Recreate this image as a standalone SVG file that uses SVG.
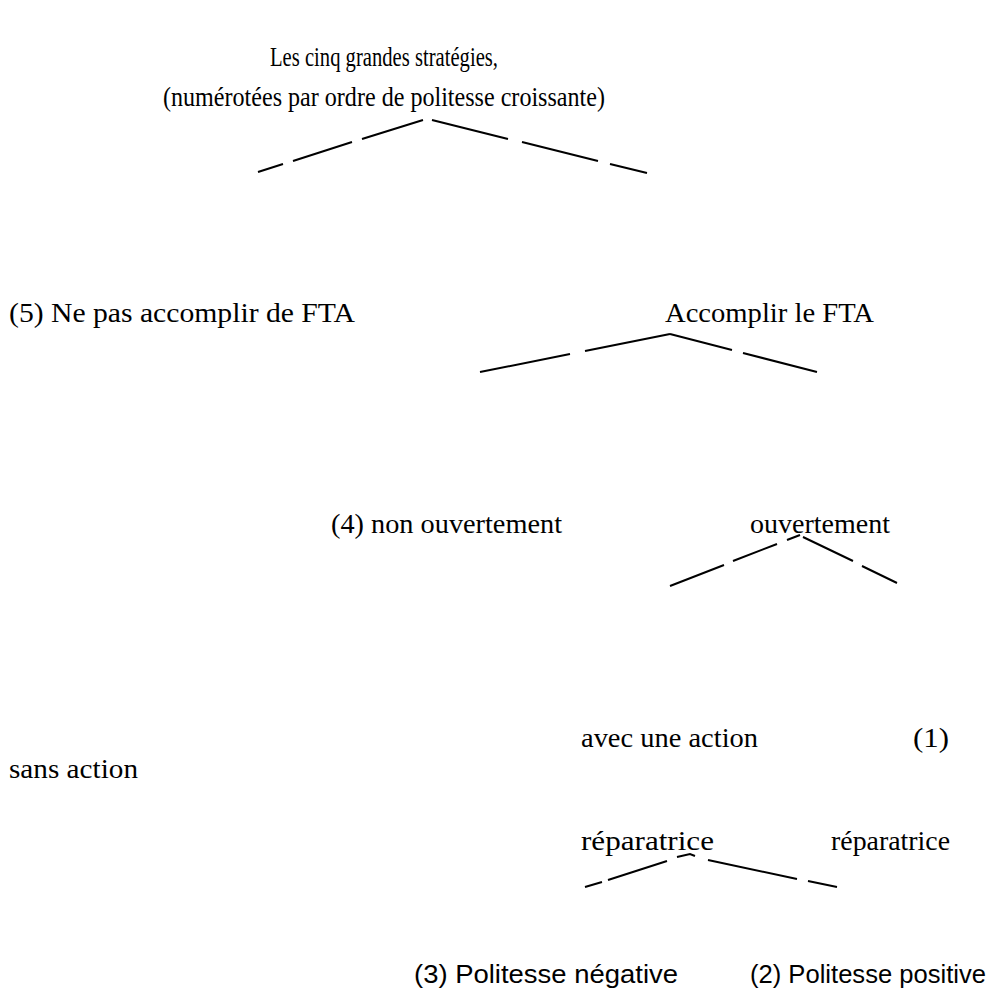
<svg xmlns="http://www.w3.org/2000/svg" width="993" height="994" viewBox="0 0 993 994">
<style>
.s{font-family:"Liberation Serif","Times New Roman",serif;font-size:28px;fill:#000}
.ss{font-family:"Liberation Sans",Arial,sans-serif;font-size:26px;fill:#000}
.c{fill:none;stroke:#000;stroke-width:2;stroke-linecap:butt}
</style>
<rect width="993" height="994" fill="#fff"/>
<g id="root">
<text class="s" x="270" y="66" textLength="228" lengthAdjust="spacingAndGlyphs">Les cinq grandes stratégies,</text>
<text class="s" x="163" y="106" textLength="442" lengthAdjust="spacingAndGlyphs">(numérotées par ordre de politesse croissante)</text>
</g>
<g id="n5"><text class="s" x="9" y="322" textLength="346" lengthAdjust="spacingAndGlyphs">(5) Ne pas accomplir de FTA</text></g>
<g id="accomplir"><text class="s" x="665" y="322" textLength="209" lengthAdjust="spacingAndGlyphs">Accomplir le FTA</text></g>
<g id="n4"><text class="s" x="331" y="533" textLength="231" lengthAdjust="spacingAndGlyphs">(4) non ouvertement</text></g>
<g id="ouvertement"><text class="s" x="750" y="533" textLength="140" lengthAdjust="spacingAndGlyphs">ouvertement</text></g>
<g id="sans"><text class="s" x="9" y="778" textLength="129" lengthAdjust="spacingAndGlyphs">sans action</text></g>
<g id="avec">
<text class="s" x="581" y="747" textLength="177" lengthAdjust="spacingAndGlyphs">avec une action</text>
<text class="s" x="581" y="850" textLength="133" lengthAdjust="spacingAndGlyphs">réparatrice</text>
</g>
<g id="n1">
<text class="s" x="913" y="747" textLength="36" lengthAdjust="spacingAndGlyphs">(1)</text>
<text class="s" x="831" y="850" textLength="119" lengthAdjust="spacingAndGlyphs">réparatrice</text>
</g>
<g id="n3"><text class="ss" x="414" y="983" textLength="264" lengthAdjust="spacingAndGlyphs">(3) Politesse négative</text></g>
<g id="n2"><text class="ss" x="750" y="983" textLength="236" lengthAdjust="spacingAndGlyphs">(2) Politesse positive</text></g>
<g id="connectors">
<path class="c" d="M258 172 L283 164 M293 161 L352 142 M362 139 L423 120"/>
<path class="c" d="M432 120 L508 139 M522 142 L598 161 M610 164 L647 173"/>
<path class="c" d="M480 372 L570 354 M585 351 L670 334"/>
<path class="c" d="M670 334 L732 350 M743 353 L817 372"/>
<path class="c" d="M670 586 L724 565 M733 561 L777 544 M787 540 L800 535"/>
<path class="c" d="M803 537 L853 561 M862 566 L897 583"/>
<path class="c" d="M585 887 L602 882 M608 880 L667 861 M677 857 L690 854 L695 856"/>
<path class="c" d="M708 860 L797 879 M808 881 L837 887"/>
</g>
</svg>
